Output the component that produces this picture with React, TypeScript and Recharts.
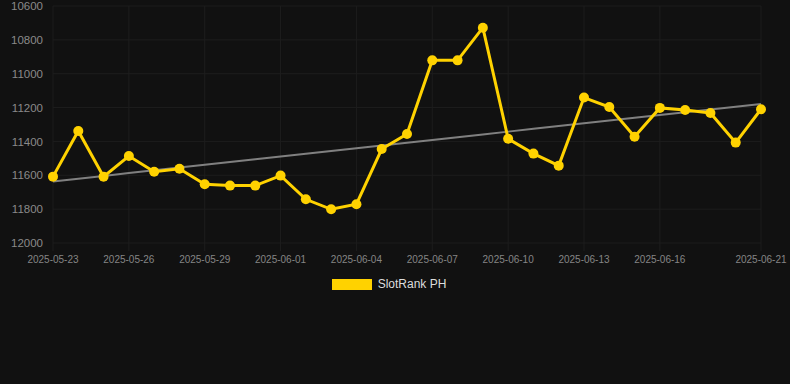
import React from "react";
import { LineChart, Line, XAxis, YAxis, CartesianGrid } from "recharts";

const dates = [
  "2025-05-23", "2025-05-24", "2025-05-25", "2025-05-26", "2025-05-27", "2025-05-28",
  "2025-05-29", "2025-05-30", "2025-05-31", "2025-06-01", "2025-06-02", "2025-06-03",
  "2025-06-04", "2025-06-05", "2025-06-06", "2025-06-07", "2025-06-08", "2025-06-09",
  "2025-06-10", "2025-06-11", "2025-06-12", "2025-06-13", "2025-06-14", "2025-06-15",
  "2025-06-16", "2025-06-17", "2025-06-18", "2025-06-19", "2025-06-21",
];

const rankValues = [
  11608, 11338, 11608, 11486, 11579, 11561,
  11653, 11661, 11661, 11602, 11742, 11801,
  11771, 11445, 11356, 10921, 10921, 10728,
  11384, 11472, 11543, 11141, 11197, 11372,
  11202, 11214, 11232, 11407, 11210,
];

const xTicks = [
  "2025-05-23", "2025-05-26", "2025-05-29", "2025-06-01", "2025-06-04",
  "2025-06-07", "2025-06-10", "2025-06-13", "2025-06-16", "2025-06-21",
];

const yTicks = [10600, 10800, 11000, 11200, 11400, 11600, 11800, 12000];

const seriesName = "SlotRank PH";

// Linear regression trend line derived from the series
const n = rankValues.length;
const meanX = (n - 1) / 2;
const meanY = rankValues.reduce((a, b) => a + b, 0) / n;
let sxy = 0;
let sxx = 0;
rankValues.forEach((v, i) => {
  sxy += (i - meanX) * (v - meanY);
  sxx += (i - meanX) * (i - meanX);
});
const slope = sxy / sxx;
const intercept = meanY - slope * meanX;

const data = dates.map((d, i) => ({
  date: d,
  value: rankValues[i],
  trend: intercept + slope * i,
}));

const FONT = "'Liberation Sans', Arial, sans-serif";
const YELLOW = "#FFD200";
const GRID = "#1d1d1d";

export default function App() {
  return (
    <div
      style={{
        position: "absolute",
        left: 0,
        top: 0,
        width: 790,
        height: 384,
        background: "#111111",
        fontFamily: FONT,
      }}
    >
      <LineChart
        width={790}
        height={384}
        data={data}
        margin={{ top: 6, right: 29, bottom: 111, left: 0 }}
      >
        <CartesianGrid stroke={GRID} strokeWidth={1} />
        <XAxis
          dataKey="date"
          ticks={xTicks}
          interval={0}
          axisLine={false}
          tickLine={{ stroke: GRID }}
          tickSize={8}
          tickMargin={5}
          height={30}
          tick={{ fill: "#858585", fontSize: 10, fontFamily: FONT }}
        />
        <YAxis
          reversed
          domain={[10600, 12000]}
          ticks={yTicks}
          interval={0}
          axisLine={false}
          tickLine={false}
          width={53}
          tickMargin={4}
          tick={{ fill: "#8a8a8a", fontSize: 11.5, fontFamily: FONT }}
        />
        <Line
          dataKey="trend"
          stroke="#808080"
          strokeWidth={2}
          dot={false}
          activeDot={false}
          isAnimationActive={false}
        />
        <Line
          dataKey="value"
          name={seriesName}
          stroke={YELLOW}
          strokeWidth={3}
          dot={{ r: 5, fill: YELLOW, stroke: YELLOW, strokeWidth: 0 }}
          activeDot={false}
          isAnimationActive={false}
        />
      </LineChart>
      <div
        style={{
          position: "absolute",
          top: 278,
          left: 0,
          width: 790,
          display: "flex",
          justifyContent: "center",
          alignItems: "center",
          height: 12,
          paddingRight: 12,
          boxSizing: "border-box",
        }}
      >
        <span
          style={{
            display: "inline-block",
            width: 40,
            height: 11,
            background: YELLOW,
            marginRight: 6,
          }}
        />
        <span style={{ color: "#dddddd", fontSize: 12, fontFamily: FONT, lineHeight: "12px" }}>
          {seriesName}
        </span>
      </div>
    </div>
  );
}
